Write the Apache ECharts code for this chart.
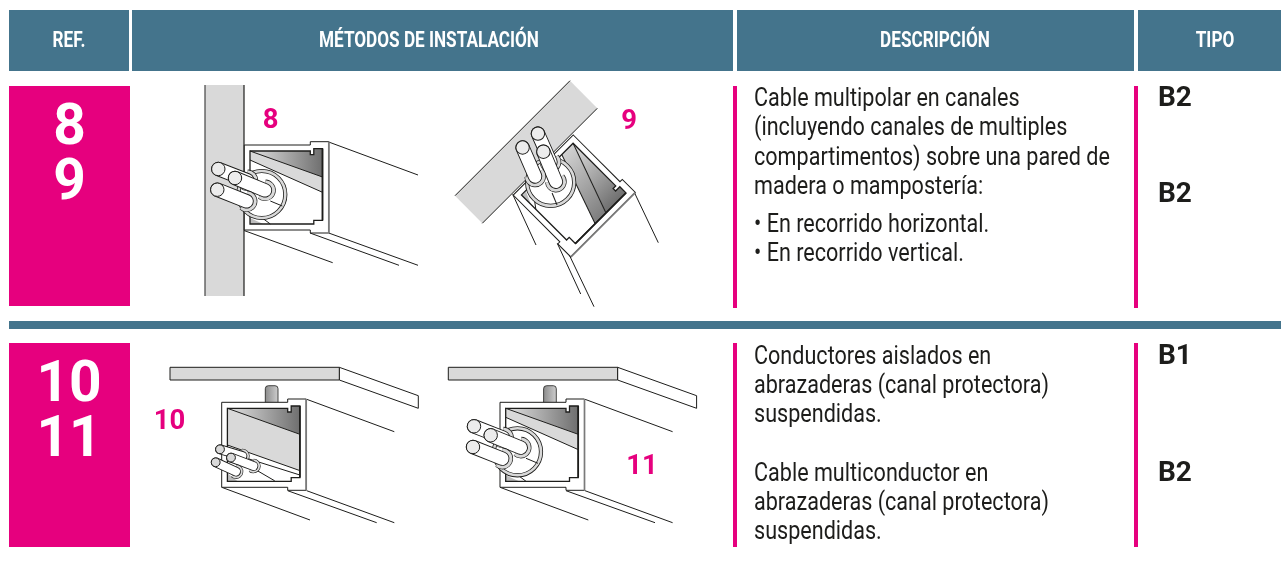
<!DOCTYPE html>
<html><head><meta charset="utf-8">
<style>html,body{margin:0;padding:0;background:#fff}#c{width:1281px;height:562px}</style>
<script src="https://cdn.jsdelivr.net/npm/echarts@6/dist/echarts.min.js"></script>
</head><body><div id="c"></div>
<script>
const headers = ['REF.', 'MÉTODOS DE INSTALACIÓN', 'DESCRIPCIÓN', 'TIPO'];
const refsTop = ['8', '9'];
const refsBottom = ['10', '11'];
const descTop = ['Cable multipolar en canales', '(incluyendo canales de multiples', 'compartimentos) sobre una pared de', 'madera o mampostería:'];
const descBullets = ['• En recorrido horizontal.', '• En recorrido vertical.'];
const descB1 = ['Conductores aislados en', 'abrazaderas (canal protectora)', 'suspendidas.'];
const descB2 = ['Cable multiconductor en', 'abrazaderas (canal protectora)', 'suspendidas.'];
const tipos = ['B2', 'B2', 'B1', 'B2'];
const figureLabels = ['8', '9', '10', '11'];

const TEAL = '#44748c', PINK = '#e6007e', INK = '#1d1d1b', GRAY = '#d9d9d9';
const FONT = 'Roboto, "Liberation Sans", sans-serif';
const out = [];
const rect = (x, y, w, h, fill) => ({type: 'rect', shape: {x, y, width: w, height: h}, style: {fill}, silent: true});
const text = (s, x, y, o) => ({type: 'text', x, y, scaleX: o.sx || 1, silent: true,
  style: {text: s, x: 0, y: 0, fill: o.fill || INK, font: `${o.w || 400} ${o.size}px ${FONT}`,
    textAlign: o.align || 'left', textVerticalAlign: 'middle', textBaseline: 'middle'}});
const poly = (points, fill, stroke, lw) => ({type: 'polygon', shape: {points}, silent: true,
  style: {fill: fill || 'none', stroke: stroke || 'none', lineWidth: lw === undefined ? 1 : lw}});
const ln = (a, b, lw, color) => ({type: 'polyline', shape: {points: [a, b]}, silent: true,
  style: {fill: 'none', stroke: color || INK, lineWidth: lw || 1}});
const grad = (a, b) => new echarts.graphic.LinearGradient(0, 0, 1, 0, [{offset: 0, color: a}, {offset: 1, color: b}]);

function core(tip, end, r, tipFill) {
  const a = Math.atan2(end[1] - tip[1], end[0] - tip[0]);
  const R = r * 1.22, sp = 1.9;
  const arc = (w, c) => ({type: 'arc', silent: true,
    shape: {cx: end[0], cy: end[1], r: R, startAngle: a - sp, endAngle: a + sp, clockwise: true},
    style: {fill: 'none', stroke: c, lineWidth: w}});
  const cap = (w, c) => ({type: 'polyline', shape: {points: [tip, end]}, silent: true,
    style: {fill: 'none', stroke: c, lineWidth: w, lineCap: 'round'}});
  return [arc(r * 0.6 + 1.2, INK), arc(r * 0.6, GRAY), cap(2 * r + 1, INK), cap(2 * r - 0.8, '#fff'),
    {type: 'circle', shape: {cx: tip[0], cy: tip[1], r}, silent: true, style: {fill: tipFill, stroke: INK, lineWidth: 1}}];
}

function section(big, shaded) {
  const outer = [[0, 0], [66, 0], [66, -3.3], [84.5, -3.3], [84.5, 88], [66, 88], [66, 85], [0, 85]];
  const inner = [[5.7, 6], [66, 6], [66, 9.7], [69.5, 9.7], [69.5, 3.7], [78.2, 3.7], [78.2, 75.3], [69.5, 75.3], [69.5, 79], [66, 79], [5.7, 79]];
  const bandLeft = big ? [5.7, shaded ? 22 : 15] : [5.7, 42.7];
  const bandRight = big ? [78.2, 47.3] : [78.2, 68.3];
  const k = [poly(outer, '#fff', INK, 1), poly(inner, '#fff')];
  k.push(poly([[5.7, 6], [78.2, 32], bandRight, bandLeft], shaded ? grad('#d2d2d2', '#7d7d7d') : GRAY));
  const topTri = poly([[5.7, 6], [66, 6], [66, 9.7], [69.5, 9.7], [69.5, 3.7], [78.2, 3.7], [78.2, 32]], grad('#e2e2e2', '#6f6f6f'));
  k.push(topTri, ln([5.7, 6], [78.2, 32], 1));
  k.push(ln(bandLeft, bandRight, 1));
  k.push(poly(big ? [[5.7, 73], [5.7, 79], [19, 79]] : [[5.7, 71], [5.7, 79], [16, 79]], '#bdbdbd'));
  k.push(poly(inner, 'none', INK, 1.3), ln([78.2, 3.7], [78.2, 75.3], 1.7), ln([84.5, -3.3], [84.5, 88], 1.7, '#7a7a7a'));
  if (big) {
    k.push(ln([14, 70], [26, 79], 1), ln([26, 56], [37, 61], 1));
    k.push({type: 'circle', shape: {cx: 17.5, cy: 49.5, r: 23.5}, silent: true, style: {fill: '#fff', stroke: INK, lineWidth: 4.2}});
    k.push({type: 'circle', shape: {cx: 17.5, cy: 49.5, r: 23.5}, silent: true, style: {fill: 'none', stroke: GRAY, lineWidth: 2.6}});
    k.push(ln([26, 56], [38, 61], 1));
    k.push(...core([-26, 24], [3, 35.3], 6.7, '#ececec'), ...core([-9.3, 33], [20.7, 45.3], 6.7, '#ececec'), ...core([-27, 44.7], [2.3, 56.3], 6.7, '#ececec'));
  } else {
    k.push(ln([22, 55], [78.2, 72.7], 1), ln([35, 68], [53, 78.5], 1));
    k.push(...core([-1.7, 47], [20.7, 53.7], 4.4, GRAY), ...core([9.3, 55.3], [31.7, 63.7], 4.4, GRAY), ...core([-6, 60], [14.3, 69.3], 4.4, GRAY));
  }
  return k;
}
const place = (x, y, rotation, children) => ({type: 'group', x, y, rotation, silent: true, children});

// table chrome
out.push(rect(9, 10, 120, 61, TEAL), rect(132, 10, 601, 61, TEAL), rect(737, 10, 397, 61, TEAL), rect(1138, 10, 143, 61, TEAL));
out.push(rect(9, 86, 121, 220, PINK), rect(9, 343, 121, 204, PINK));
out.push(rect(9, 321, 1272, 8, TEAL));
[[733, 86, 222], [1134, 86, 222], [733, 343, 204], [1134, 343, 204]].forEach(b => out.push(rect(b[0], b[1], 4, b[2], PINK)));

[69, 429, 935, 1215].forEach((x, i) => out.push(text(headers[i], x, 41, {size: 22, w: 700, sx: 0.78, fill: '#fff', align: 'center'})));

refsTop.forEach((s, i) => out.push(text(s, 69.5, 129 + i * 55, {size: 58, w: 700, sx: 0.98, fill: '#fff', align: 'center'})));
refsBottom.forEach((s, i) => out.push(text(s, 69, 386 + i * 55, {size: 58, w: 700, sx: 0.98, fill: '#fff', align: 'center'})));

const body = {size: 26, sx: 0.83};
descTop.forEach((s, i) => out.push(text(s, 754, 99 + i * 29.5, body)));
descBullets.forEach((s, i) => out.push(text(s, 754, 225 + i * 29, body)));
descB1.forEach((s, i) => out.push(text(s, 754, 357 + i * 29, body)));
descB2.forEach((s, i) => out.push(text(s, 754, 474 + i * 29, body)));
[99, 195, 357, 474].forEach((y, i) => out.push(text(tipos[i], 1158, y, {size: 28, w: 700})));

// figure 8
out.push(rect(205, 85, 39, 211, GRAY), ln([205, 85], [205, 296], 1.2, '#444'), ln([244, 85], [244, 296], 1.2));
[[[328.7, 142], [418, 175]], [[244, 230.5], [332.7, 262.7]], [[310, 233], [399, 265.3]], [[328.7, 233], [418, 265.3]]]
  .forEach(l => out.push(ln(l[0], l[1])));
out.push(place(244.3, 145, 0, section(true, false)));

// figure 9
out.push(poly([[455, 195.7], [570, 80.7], [597.3, 108.3], [482.3, 223.3]], GRAY), ln([455, 195.7], [570, 80.7]), ln([482.3, 223.3], [597.3, 108.3]));
[[[634, 191.7], [658.3, 242.7]], [[512.7, 194.3], [536, 245]], [[557.3, 243.3], [580.7, 294]], [[569.3, 255], [594, 306.7]]]
  .forEach(l => out.push(ln(l[0], l[1])));
out.push(place(573.3, 135, -Math.PI / 4, section(true, true)));

// figures 10 and 11
function ceiling(dx, big) {
  out.push(poly([[339.3 + dx, 367.3], [418.3 + dx, 395.7], [418.3 + dx, 408.3], [339.3 + dx, 380]], '#fff', INK, 1));
  out.push(poly([[170 + dx, 367.3], [339.3 + dx, 367.3], [339.3 + dx, 380], [170 + dx, 380]], GRAY, INK, 1));
  out.push({type: 'rect', shape: {x: 265.3 + dx, y: 385.7, width: 12.7, height: 17.5, r: [3, 3, 0, 0]}, silent: true,
    style: {fill: grad('#8a8a8a', '#cfcfcf'), stroke: INK, lineWidth: 0.8}});
  [[[306.7, 399.3], [394.3, 431.7]], [[221.7, 487.3], [310, 520]], [[287.7, 490.7], [376.7, 522.7]], [[306.7, 490.7], [394.3, 522.7]]]
    .forEach(l => out.push(ln([l[0][0] + dx, l[0][1]], [l[1][0] + dx, l[1][1]])));
  out.push(place(221.7 + dx, 402.3, 0, section(big, false)));
}
ceiling(0, false);
ceiling(278.3, true);

[[270.5, 121], [629, 122], [169.5, 422], [642, 466.5]].forEach((p, i) =>
  out.push(text(figureLabels[i], p[0], p[1], {size: 28, w: 700, sx: 0.98, fill: PINK, align: 'center'})));

const chart = echarts.init(document.getElementById('c'), null, {renderer: 'canvas'});
chart.setOption({animation: false, backgroundColor: '#fff', graphic: {elements: out}});
</script></body></html>
